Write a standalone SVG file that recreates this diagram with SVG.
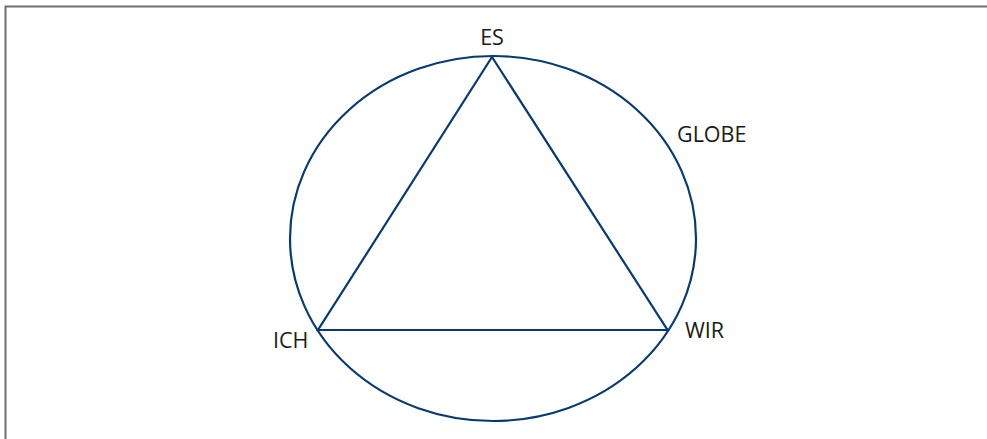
<svg xmlns="http://www.w3.org/2000/svg" width="987" height="439" viewBox="0 0 987 439">
<style>
.frame{stroke:#6e6e6e;stroke-width:2;fill:none}
.shape{stroke:#063a73;stroke-width:2.2;fill:none;stroke-linejoin:miter}
.lbl{font-family:"Open Sans","Noto Sans",sans-serif;font-size:21.5px;fill:#1a1a1a}
</style>
<rect width="987" height="439" fill="#fff"/>
<path class="frame" d="M5.5,439 V6.5 H987"/>
<g id="globe"><ellipse class="shape" cx="493" cy="238.5" rx="203" ry="182.5"/><text class="lbl" x="677" y="142">GLOBE</text></g>
<g id="connectors"><polygon class="shape" points="492,57 667.5,330 318,330"/></g>
<g id="es"><text class="lbl" x="492" y="45" text-anchor="middle">ES</text></g>
<g id="ich"><text class="lbl" x="273" y="348">ICH</text></g>
<g id="wir"><text class="lbl" x="685" y="338">WIR</text></g>
</svg>
